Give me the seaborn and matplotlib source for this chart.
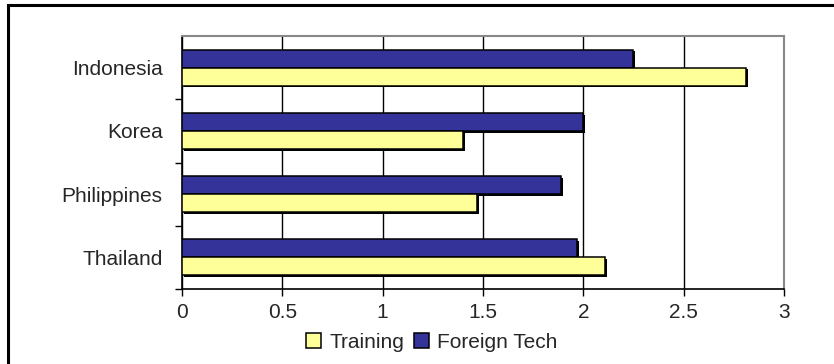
import matplotlib
matplotlib.use("Agg")
import matplotlib.pyplot as plt
import matplotlib.patheffects as pe
from matplotlib.patches import Rectangle, Patch
import seaborn as sns
import pandas as pd

countries = ["Indonesia", "Korea", "Philippines", "Thailand"]
training = [2.81, 1.40, 1.47, 2.11]
foreign_tech = [2.25, 2.00, 1.89, 1.97]
x_ticks = [0, 0.5, 1, 1.5, 2, 2.5, 3]
x_tick_labels = ["0", "0.5", "1", "1.5", "2", "2.5", "3"]

df = pd.DataFrame({
    "country": countries * 2,
    "series": ["Training"] * len(countries) + ["Foreign Tech"] * len(countries),
    "value": training + foreign_tech,
})

sns.set_theme(style="white")
plt.rcParams["font.family"] = ["Liberation Sans", "DejaVu Sans"]

colors = {"Training": "#FFFF99", "Foreign Tech": "#333399"}
fs = 15

fig = plt.figure(figsize=(8.34, 3.64), dpi=100)
ax = fig.add_axes([182 / 834, 1 - 289 / 364, (784 - 182) / 834, (289 - 36) / 364])

sns.barplot(data=df, y="country", x="value", hue="series",
            hue_order=["Foreign Tech", "Training"], order=countries,
            palette=colors, saturation=1, orient="h", width=0.57, dodge=True,
            edgecolor="black", linewidth=1.1, legend=False, ax=ax, zorder=3)

for bar in ax.patches:
    bar.set_path_effects([pe.SimplePatchShadow(offset=(1.2, -1.2), shadow_rgbFace="black", alpha=1.0),
                          pe.Normal()])

ax.set_xlim(0, 3)
ax.set_ylim(3.5, -0.5)
ax.set_xticks(x_ticks)
ax.set_xticklabels(x_tick_labels, fontsize=fs)
ax.set_yticks(range(len(countries)))
ax.set_yticklabels(countries, fontsize=fs)
ax.set_yticks([0.5, 1.5, 2.5, 3.5], minor=True)
ax.tick_params(axis="y", which="major", length=0, pad=14)
ax.tick_params(axis="y", which="minor", length=5, width=1, color="black", left=True)
ax.tick_params(axis="x", which="major", length=5, width=1, color="black", bottom=True, pad=5)
ax.set_xlabel("")
ax.set_ylabel("")

ax.grid(axis="x", color="black", linewidth=1)
ax.grid(axis="y", visible=False)
ax.set_axisbelow(True)

for side in ["top", "right"]:
    ax.spines[side].set_color("#888888")
    ax.spines[side].set_linewidth(1.5)
for side in ["left", "bottom"]:
    ax.spines[side].set_color("black")
    ax.spines[side].set_linewidth(1.2)

handles = [Patch(facecolor=colors["Training"], edgecolor="black", linewidth=1.1, label="Training"),
           Patch(facecolor=colors["Foreign Tech"], edgecolor="black", linewidth=1.1, label="Foreign Tech")]
fig.legend(handles=handles, loc="center", bbox_to_anchor=(432 / 834, 1 - 342 / 364),
           ncol=2, frameon=False, fontsize=fs, handlelength=0.7, handleheight=0.7,
           handletextpad=0.4, columnspacing=0.5, borderpad=0)

# outer chart frame
fig.add_artist(Rectangle((8 / 834, -0.5), 1.5, 1.5 - 5 / 364, transform=fig.transFigure,
                         fill=False, edgecolor="black", linewidth=2.2))

fig.savefig("out.png", dpi=100)
